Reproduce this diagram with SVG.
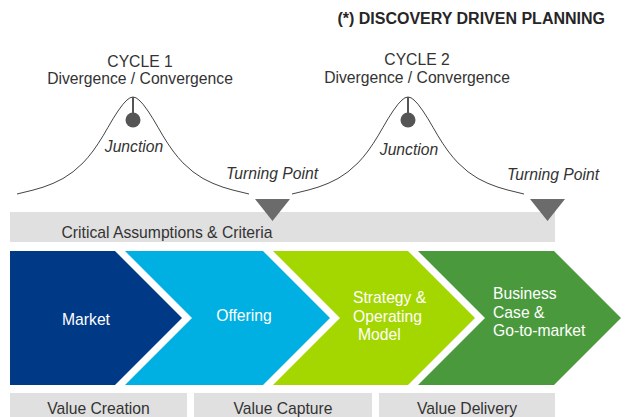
<svg xmlns="http://www.w3.org/2000/svg" xmlns:xlink="http://www.w3.org/1999/xlink" width="626" height="417" viewBox="0 0 626 417">
  <style>
    text { font-family: "Liberation Sans", Arial, sans-serif; font-size: 15.7px; fill: #333333; }
    .title { font-weight: bold; font-size: 16px; fill: #262626; }
    .it { font-style: italic; }
    .mid { text-anchor: middle; }
    .white { fill: #ffffff; }
    .bar { fill: #e0e0e0; }
    .curve { fill: none; stroke: #444444; stroke-width: 1; stroke-linejoin: round; }
    .stem { stroke: #555555; stroke-width: 2; }
    .dot { fill: #555555; }
    .marker { fill: #6b6b6b; }
  </style>
  <defs>
    <!-- bell-shaped divergence/convergence curve centred at x=0, peak at y=97 -->
    <path id="bell" class="curve" d="M-116,194 L-100,190.1 L-90,187.2 L-80,183.4 L-70,178.5 L-60,171.8 L-50,162.9 L-45,157.3 L-40,151 L-35,143.8 L-30,135.9 L-25,127.3 L-20,118.8 L-15,111 L-10,104.2 L-6,100 L-3,97.8 L0,97 L3,97.8 L6,100 L10,104.2 L15,111 L20,118.8 L25,127.3 L30,135.9 L35,143.8 L40,151 L45,157.3 L50,162.9 L60,171.8 L70,178.5 L80,183.4 L90,187.2 L100,190.1 L116,194"/>
  </defs>

  <text class="title" x="605" y="24" text-anchor="end">(*) DISCOVERY DRIVEN PLANNING</text>

  <!-- cycle curves -->
  <g id="connectors">
    <use xlink:href="#bell" transform="translate(133,0)"/>
    <use xlink:href="#bell" transform="translate(408,0)"/>
  </g>

  <g id="cycle1">
    <text class="mid" x="140" y="67">CYCLE 1</text>
    <text class="mid" x="140" y="84">Divergence / Convergence</text>
  </g>
  <g id="cycle2">
    <text class="mid" x="417" y="65">CYCLE 2</text>
    <text class="mid" x="417" y="83">Divergence / Convergence</text>
  </g>

  <g id="junction1">
    <line class="stem" x1="133" y1="97" x2="133" y2="114"/>
    <circle class="dot" cx="133" cy="120" r="7.5"/>
    <text class="it mid" x="134" y="152">Junction</text>
  </g>
  <g id="junction2">
    <line class="stem" x1="408" y1="97" x2="408" y2="114"/>
    <circle class="dot" cx="408" cy="120" r="7.5"/>
    <text class="it mid" x="409" y="155">Junction</text>
  </g>

  <g id="assumptions">
    <rect class="bar" x="10" y="212" width="545" height="30"/>
    <text class="mid" x="167" y="238">Critical Assumptions &amp; Criteria</text>
  </g>

  <g id="turning1">
    <text class="it mid" x="272" y="179">Turning Point</text>
    <polygon class="marker" points="255,199 290,199 272.5,221"/>
  </g>
  <g id="turning2">
    <text class="it mid" x="553" y="180">Turning Point</text>
    <polygon class="marker" points="530,199 565,199 547.5,221"/>
  </g>

  <!-- process chevrons -->
  <g id="market">
    <polygon fill="#003a87" points="10,251 115,251 182,318 115,385 10,385"/>
    <text class="white mid" x="86" y="325">Market</text>
  </g>
  <g id="offering">
    <polygon fill="#00b0e2" points="125,251 263,251 330,318 263,385 125,385 192,318"/>
    <text class="white mid" x="244" y="321">Offering</text>
  </g>
  <g id="strategy">
    <polygon fill="#a4d600" points="273,251 408,251 475,318 408,385 273,385 340,318"/>
    <text class="white" x="353" y="303">Strategy &amp;</text>
    <text class="white" x="353" y="322">Operating</text>
    <text class="white" x="358" y="340">Model</text>
  </g>
  <g id="business">
    <polygon fill="#4a9a3d" points="418,251 554,251 621,318 554,385 418,385 485,318"/>
    <text class="white" x="493" y="299">Business</text>
    <text class="white" x="493" y="318">Case &amp;</text>
    <text class="white" x="493" y="336">Go-to-market</text>
  </g>

  <!-- value stages -->
  <g id="value-creation">
    <rect class="bar" x="10" y="393" width="177" height="24"/>
    <text class="mid" x="98.5" y="414">Value Creation</text>
  </g>
  <g id="value-capture">
    <rect class="bar" x="194" y="393" width="178" height="24"/>
    <text class="mid" x="283" y="414">Value Capture</text>
  </g>
  <g id="value-delivery">
    <rect class="bar" x="379" y="393" width="176" height="24"/>
    <text class="mid" x="467" y="414">Value Delivery</text>
  </g>
</svg>
